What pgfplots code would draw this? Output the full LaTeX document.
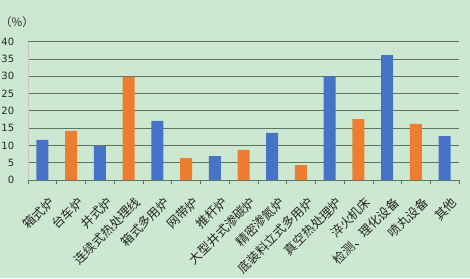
\documentclass[border=0pt]{standalone}
\usepackage{fontspec}
\setmainfont{DejaVu Sans}
\newfontfamily\cjk{Noto Sans CJK SC}
\usepackage{pgfplots}
\pgfplotsset{compat=1.18}
\definecolor{bg}{RGB}{205,232,208}
\definecolor{gridc}{RGB}{95,115,100}
\definecolor{barblue}{RGB}{70,114,200}
\definecolor{barorange}{RGB}{237,125,49}
\begin{document}
\begin{tikzpicture}
\fill[bg] (-28pt,-98pt) rectangle (442pt,180pt);
\useasboundingbox (-28pt,-98pt) rectangle (442pt,180pt);
\begin{axis}[
  at={(0,0)}, anchor=south west,
  scale only axis, width=431pt, height=138.3pt,
  xmin=-0.5, xmax=14.5, ymin=0, ymax=40,
  ytick={0,5,...,40},
  axis x line=bottom, axis y line=left,
  axis line style={-},
  x axis line style={draw=gridc, line width=0.8pt},
  y axis line style={draw=gray!45, line width=0.6pt},
  ymajorgrids, major grid style={draw=gridc, line width=0.8pt},
  ytick style={draw=none},
  xtick={0,...,14},
  xticklabels={箱式炉,台车炉,井式炉,连续式热处理线,箱式多用炉,网带炉,推杆炉,大型井式渗碳炉,精密渗氮炉,底装料立式多用炉,真空热处理炉,淬火机床,检测、理化设备,喷丸设备,其他},
  major x tick style={draw=none},
  minor xtick={-0.5,0.5,...,14.5},
  minor x tick style={draw=gridc, line width=0.6pt},
  minor tick length=4pt,
  tick align=outside,
  xticklabel style={font=\cjk\fontsize{12.5}{13}\selectfont, text=black!85, rotate=45, anchor=east, inner sep=0pt, yshift=-18pt, xshift=-4pt},
  yticklabel style={font=\fontsize{10}{12}\selectfont, text=black!85, xshift=-6pt},
  /pgf/number format/assume math mode=true,
  ybar, bar width=12pt,
  clip=false,
]
\addplot[fill=barblue, draw=none, bar shift=0pt] coordinates {
(0,11.6) (2,9.9) (4,17.1) (6,6.9) (8,13.6) (10,30.0) (12,36.1) (14,12.7)};
\addplot[fill=barorange, draw=none, bar shift=0pt] coordinates {
(1,14.2) (3,29.8) (5,6.3) (7,8.7) (9,4.3) (11,17.6) (13,16.2)};
\node at (rel axis cs:0,1) [xshift=-11pt, yshift=20pt, font=\cjk\fontsize{11.5}{12}\selectfont, text=black!85] {（\%）};
\end{axis}
\end{tikzpicture}
\end{document}
